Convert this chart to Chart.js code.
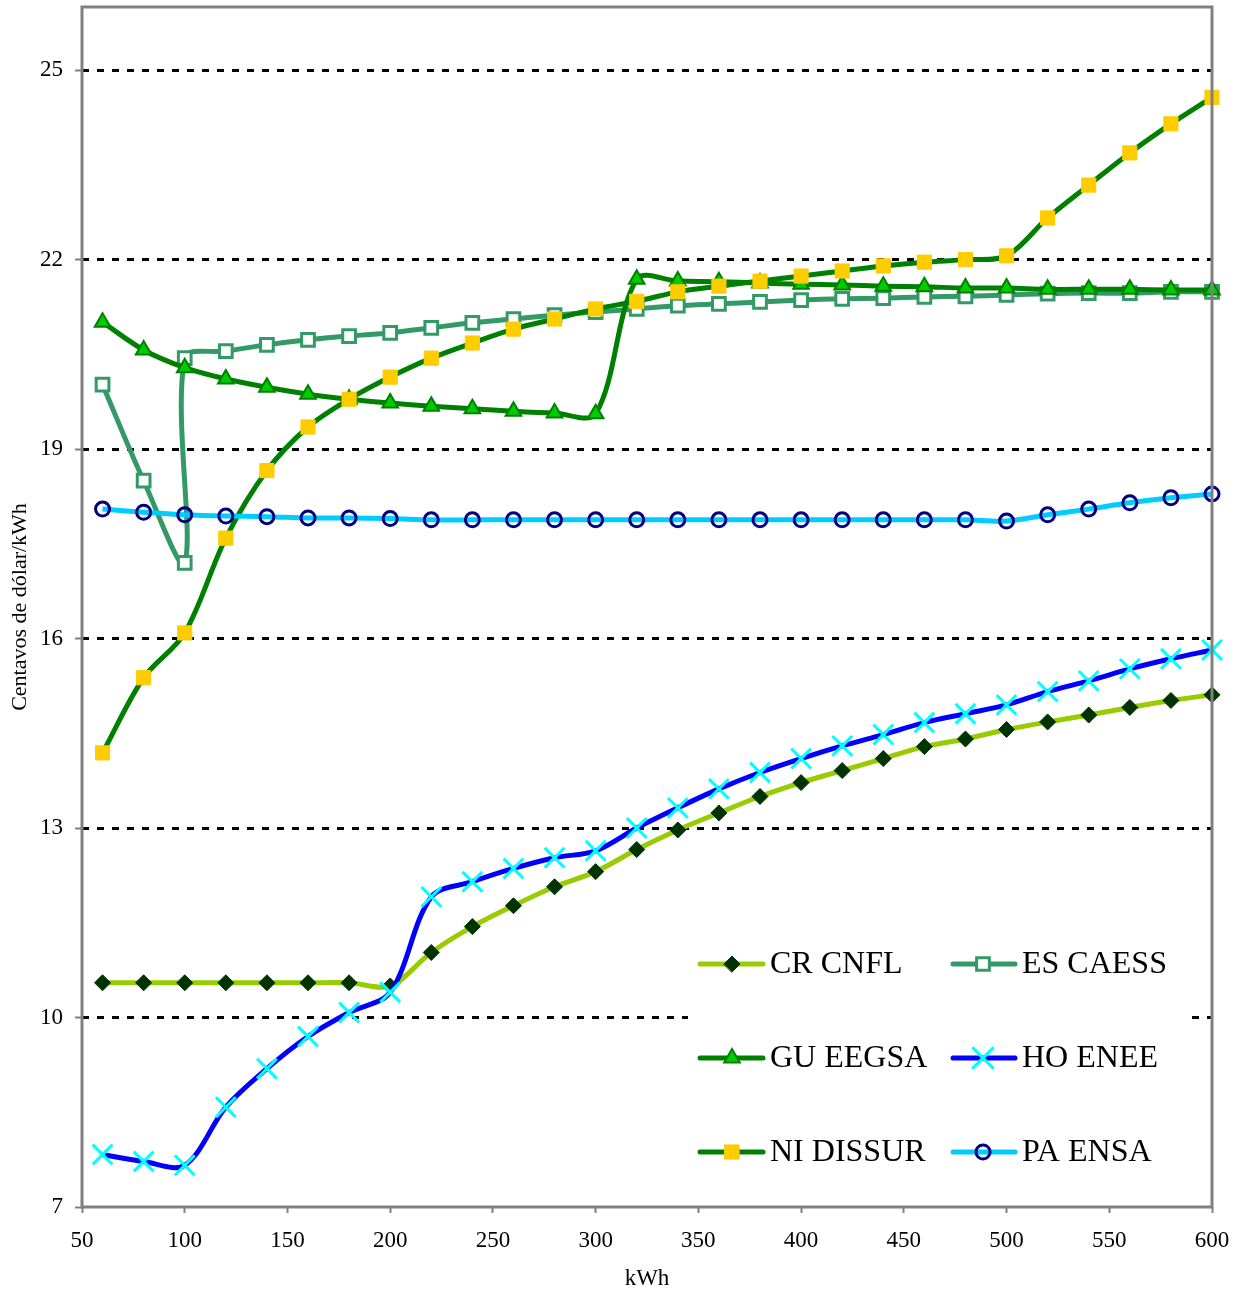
<!DOCTYPE html>
<html>
<head>
<meta charset="utf-8">
<script src="https://cdn.jsdelivr.net/npm/chart.js@4.4.1/dist/chart.umd.min.js"></script>
<style>
  html, body { margin: 0; padding: 0; background: #ffffff; }
  #wrap { width: 1239px; height: 1293px; position: relative; }
</style>
</head>
<body>
<div id="wrap"><canvas id="c" width="1239" height="1293"></canvas></div>
<script>
// ---- Data ----
const kwh = [60, 80, 100, 120, 140, 160, 180, 200, 220, 240, 260, 280, 300, 320, 340, 360, 380, 400, 420, 440, 460, 480, 500, 520, 540, 560, 580, 600];

const crCnfl = [10.55, 10.55, 10.55, 10.55, 10.55, 10.55, 10.55, 10.5, 11.03, 11.44, 11.77, 12.07, 12.31, 12.66, 12.97, 13.24, 13.5, 13.72, 13.91, 14.1, 14.29, 14.41, 14.56, 14.68, 14.79, 14.91, 15.02, 15.11];

// ES CAESS has two readings at 100 kWh (drop then jump)
const esX = [60, 80, 100, 100, 120, 140, 160, 180, 200, 220, 240, 260, 280, 300, 320, 340, 360, 380, 400, 420, 440, 460, 480, 500, 520, 540, 560, 580, 600];
const esCaess = [20.02, 18.5, 17.2, 20.44, 20.55, 20.65, 20.73, 20.79, 20.84, 20.92, 21.0, 21.06, 21.12, 21.17, 21.22, 21.27, 21.3, 21.33, 21.36, 21.38, 21.39, 21.41, 21.42, 21.44, 21.46, 21.47, 21.47, 21.49, 21.49];

const guEegsa = [21.01, 20.57, 20.29, 20.11, 19.98, 19.87, 19.79, 19.73, 19.68, 19.64, 19.6, 19.57, 19.56, 21.69, 21.66, 21.65, 21.63, 21.61, 21.6, 21.58, 21.57, 21.55, 21.55, 21.53, 21.53, 21.53, 21.52, 21.52];

const hoEnee = [7.83, 7.72, 7.66, 8.58, 9.19, 9.7, 10.08, 10.4, 11.91, 12.15, 12.36, 12.53, 12.64, 13.0, 13.32, 13.62, 13.88, 14.1, 14.3, 14.48, 14.67, 14.81, 14.95, 15.16, 15.33, 15.52, 15.68, 15.82];

const niDissur = [14.19, 15.38, 16.09, 17.59, 18.66, 19.35, 19.79, 20.14, 20.44, 20.68, 20.9, 21.06, 21.22, 21.34, 21.49, 21.58, 21.66, 21.74, 21.82, 21.9, 21.96, 22.0, 22.06, 22.66, 23.18, 23.69, 24.15, 24.57];

const paEnsa = [18.05, 18.0, 17.96, 17.94, 17.93, 17.91, 17.91, 17.9, 17.88, 17.88, 17.88, 17.88, 17.88, 17.88, 17.88, 17.88, 17.88, 17.88, 17.88, 17.88, 17.88, 17.88, 17.86, 17.96, 18.05, 18.15, 18.23, 18.29];

const seriesNames = ['CR CNFL', 'ES CAESS', 'GU EEGSA', 'HO ENEE', 'NI DISSUR', 'PA ENSA'];
const yTickValues = [7, 10, 13, 16, 19, 22, 25];
const xTickValues = [50, 100, 150, 200, 250, 300, 350, 400, 450, 500, 550, 600];
const yTitle = 'Centavos de dólar/kWh';
const xTitle = 'kWh';

// ---- Build ----
const pts = (xs, ys) => xs.map((x, i) => ({ x: x, y: ys[i] }));
const FONT = '"Liberation Serif", "Times New Roman", serif';

const styles = [
  { line: '#99CC00', style: 'rectRot', fill: '#003300', border: '#003300', r: 8, bw: 1 },
  { line: '#339966', style: 'rect', fill: '#ffffff', border: '#339966', r: 9, bw: 3 },
  { line: '#008000', style: 'triangle', fill: '#00CC00', border: '#008000', r: 9, bw: 2 },
  { line: '#0000FF', style: 'crossRot', fill: '#00FFFF', border: '#00FFFF', r: 14, bw: 3 },
  { line: '#008000', style: 'rect', fill: '#FFCC00', border: '#FFCC00', r: 10, bw: 1 },
  { line: '#00CCFF', style: 'circle', fill: 'rgba(0,0,0,0)', border: '#000080', r: 7, bw: 3 }
];
const dataArr = [pts(kwh, crCnfl), pts(esX, esCaess), pts(kwh, guEegsa), pts(kwh, hoEnee), pts(kwh, niDissur), pts(kwh, paEnsa)];

const datasets = seriesNames.map((n, i) => ({
  label: n,
  data: dataArr[i],
  borderColor: styles[i].line,
  borderWidth: 5,
  pointStyle: styles[i].style,
  pointRadius: styles[i].r,
  pointBackgroundColor: styles[i].fill,
  pointBorderColor: styles[i].border,
  pointBorderWidth: styles[i].bw,
  tension: 0.33,
  fill: false,
  clip: false,
  order: 10 - i
}));

function drawMarker(ctx, s, x, y) {
  ctx.save();
  ctx.fillStyle = s.fill;
  ctx.strokeStyle = s.border;
  ctx.lineWidth = s.bw;
  if (Chart.helpers && Chart.helpers.drawPoint) {
    Chart.helpers.drawPoint(ctx, { pointStyle: s.style, rotation: 0, radius: s.r, borderWidth: s.bw }, x, y);
  }
  ctx.restore();
}

const framePlugin = {
  id: 'frameLegend',
  afterDraw(chart) {
    const ctx = chart.ctx;
    const a = chart.chartArea;
    ctx.save();
    ctx.strokeStyle = '#808080';
    ctx.lineWidth = 3;
    ctx.strokeRect(a.left, a.top, a.right - a.left, a.bottom - a.top);
    // Legend box
    ctx.fillStyle = '#ffffff';
    ctx.fillRect(688, 935, 502, 255);
    const cols = [{ l0: 700, l1: 763, m: 732, t: 770 }, { l0: 953, l1: 1015, m: 983, t: 1022 }];
    const rows = [964, 1058, 1152];
    ctx.font = '32px ' + FONT;
    ctx.textBaseline = 'middle';
    ctx.textAlign = 'left';
    for (let i = 0; i < seriesNames.length; i++) {
      const c = cols[i % 2], y = rows[Math.floor(i / 2)];
      const s = styles[i];
      ctx.strokeStyle = s.line;
      ctx.lineWidth = 5;
      ctx.lineCap = 'round';
      ctx.beginPath();
      ctx.moveTo(c.l0, y);
      ctx.lineTo(c.l1, y);
      ctx.stroke();
      drawMarker(ctx, s, c.m, y);
      ctx.fillStyle = '#000000';
      ctx.fillText(seriesNames[i], c.t, y + 1);
    }
    ctx.restore();
  }
};

new Chart(document.getElementById('c'), {
  type: 'line',
  data: { datasets: datasets },
  options: {
    responsive: false,
    animation: false,
    layout: { autoPadding: false, padding: { left: 0, right: 27, top: 7, bottom: 0 } },
    plugins: { legend: { display: false }, tooltip: { enabled: false } },
    scales: {
      x: {
        type: 'linear',
        min: 50, max: 600,
        afterBuildTicks: (s) => { s.ticks = xTickValues.map(v => ({ value: v })); },
        afterFit: (s) => { s.height = 86; s.paddingLeft = 0; s.paddingRight = 0; },
        grid: { drawOnChartArea: false, drawTicks: true, tickLength: 6, tickColor: '#808080', tickWidth: 2 },
        border: { display: false },
        ticks: { color: '#000', font: { family: FONT, size: 23 }, padding: 14, maxRotation: 0, autoSkip: false },
        title: { display: true, text: xTitle, color: '#000', font: { family: FONT, size: 23 }, padding: { top: 0, bottom: 0 } }
      },
      y: {
        type: 'linear',
        min: 7, max: 26,
        afterBuildTicks: (s) => { s.ticks = yTickValues.map(v => ({ value: v })); },
        afterFit: (s) => { s.width = 82; s.paddingTop = 0; s.paddingBottom = 0; },
        grid: {
          color: (c) => (c.tick && c.tick.value === 7) ? 'rgba(0,0,0,0)' : '#000000',
          lineWidth: 3,
          drawTicks: true, tickLength: 7, tickColor: '#808080', tickWidth: 2, tickBorderDash: []
        },
        border: { display: false, dash: [7, 8] },
        ticks: { color: '#000', font: { family: FONT, size: 23 }, padding: 12, autoSkip: false },
        title: { display: true, text: yTitle, color: '#000', font: { family: FONT, size: 22 }, padding: { top: 7, bottom: 0 } }
      }
    }
  },
  plugins: [framePlugin]
});
</script>
</body>
</html>
